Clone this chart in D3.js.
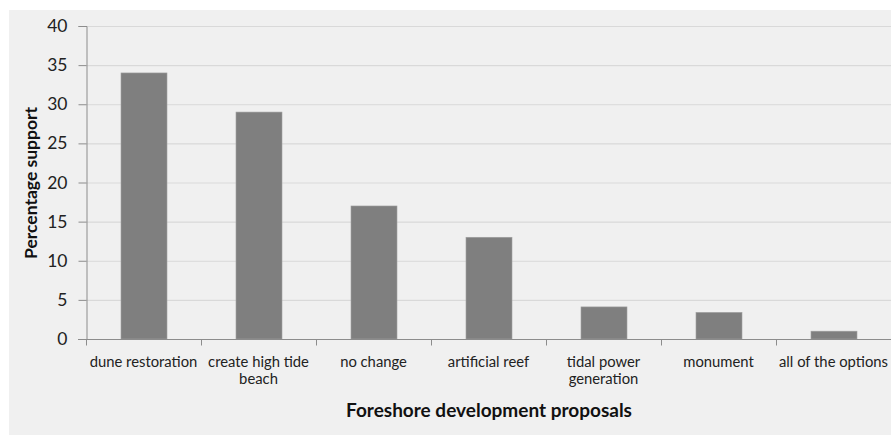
<!DOCTYPE html>
<html><head><meta charset="utf-8">
<script src="https://cdn.jsdelivr.net/npm/d3@7"></script>
<style>body{margin:0;background:#fff}svg{display:block}</style>
</head><body>
<script>
const categories = [["dune restoration"],["create high tide","beach"],["no change"],["artificial reef"],["tidal power","generation"],["monument"],["all of the options"]];
const values = [34, 29, 17, 13, 4.1, 3.4, 1];
const yTicks = [0,5,10,15,20,25,30,35,40];
const xTitle = "Foreshore development proposals";
const yTitle = "Percentage support";

const W=891,H=435;
const svg=d3.select("body").append("svg").attr("width",W).attr("height",H);
svg.append("rect").attr("x",9).attr("y",10).attr("width",W-9).attr("height",H-10).attr("fill","#f0f0f0");
const font="Lato, 'Open Sans', sans-serif";
const x=d3.scaleBand().domain(d3.range(categories.length)).range([86,891]).padding(0);
const y=d3.scaleLinear().domain([0,40]).range([339,26]);

// gridlines
svg.append("g").selectAll("line").data(yTicks.filter(d=>d>0)).join("line")
 .attr("x1",86).attr("x2",891).attr("y1",d=>y(d)+0.5).attr("y2",d=>y(d)+0.5)
 .attr("stroke","#d9d9d9").attr("stroke-width",1.2);

// bars
const bw=x.bandwidth()*0.4;
svg.append("g").selectAll("rect").data(values).join("rect")
 .attr("x",(d,i)=>x(i)+x.bandwidth()/2-bw/2+0.5).attr("width",bw)
 .attr("y",d=>y(d)).attr("height",d=>y(0)-y(d))
 .attr("fill","#7f7f7f").attr("stroke","#a0a0a0").attr("stroke-width",0.6);

// y axis
const ya=svg.append("g").attr("transform","translate(86.5,0)")
 .call(d3.axisLeft(y).tickValues(yTicks).tickSize(8).tickPadding(11));
ya.select(".domain").attr("stroke","#8c8c8c");
ya.selectAll(".tick line").attr("stroke","#8c8c8c");
ya.selectAll("text").attr("font-family",font).attr("font-size",17.5).attr("fill","#222");

// x axis
const xa=svg.append("g").attr("transform","translate(0,339.5)");
xa.append("line").attr("x1",78).attr("x2",891).attr("stroke","#8c8c8c");
xa.selectAll(".xt").data(d3.range(categories.length+1)).join("line")
 .attr("x1",i=>(i<categories.length?x(i):x.range()[1])+0.5).attr("x2",i=>(i<categories.length?x(i):x.range()[1])+0.5)
 .attr("y1",0).attr("y2",6).attr("stroke","#8c8c8c");
const lab=xa.selectAll(".xl").data(categories).join("text")
 .attr("font-family",font).attr("font-size",14.8).attr("fill","#222").attr("text-anchor","middle")
 .attr("transform",(d,i)=>`translate(${x(i)+x.bandwidth()/2},27.5)`);
lab.selectAll("tspan").data(d=>d).join("tspan").attr("x",0).attr("dy",(d,j)=>j?17:0).text(d=>d);

svg.append("text").attr("x",489).attr("y",417).attr("text-anchor","middle")
 .attr("font-family",font).attr("font-weight","bold").attr("font-size",19).attr("fill","#111").text(xTitle);
svg.append("text").attr("transform","translate(37,183) rotate(-90)").attr("text-anchor","middle")
 .attr("font-family",font).attr("font-weight","bold").attr("font-size",17.5).attr("fill","#111").text(yTitle);
</script>
</body></html>
